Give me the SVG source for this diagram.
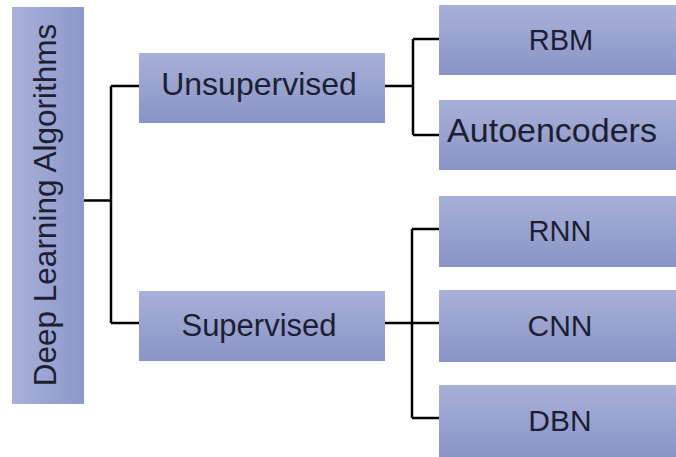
<svg xmlns="http://www.w3.org/2000/svg" width="676" height="457" viewBox="0 0 676 457">
  <defs>
    <linearGradient id="fillV" x1="0" y1="0" x2="0" y2="1">
      <stop offset="0" stop-color="#a9b0d9"/>
      <stop offset="1" stop-color="#8993c6"/>
    </linearGradient>
    <linearGradient id="fillH" x1="0" y1="0" x2="1" y2="0">
      <stop offset="0" stop-color="#a9b0d9"/>
      <stop offset="1" stop-color="#8d97ca"/>
    </linearGradient>
    <style>
      .box { fill: url(#fillV); }
      .root { fill: url(#fillH); }
      .label { font-family: "Liberation Sans", Arial, sans-serif; fill: #1c1f33; text-anchor: middle; }
      .wire { fill: none; stroke: #000; stroke-width: 2.5; }
    </style>
  </defs>
  <rect width="676" height="457" fill="#fff"/>

  <g id="connectors">
    <path class="wire" d="M84 200.5 H111 M111 86 V323 M111 86 H139 M111 323 H139"/>
    <path class="wire" d="M385 86 H413 M413 39 V135 M413 39 H439 M413 135 H439"/>
    <path class="wire" d="M385 323 H440 M412 229 V418 M412 229 H439 M412 418 H439"/>
  </g>

  <g id="node-deep-learning">
    <rect class="root" x="12" y="7" width="72" height="397"/>
    <text class="label" font-size="31.5" transform="translate(56 205) rotate(-90)">Deep Learning Algorithms</text>
  </g>

  <g id="node-unsupervised">
    <rect class="box" x="139" y="53" width="246" height="70"/>
    <text class="label" font-size="32" x="259" y="95">Unsupervised</text>
  </g>

  <g id="node-supervised">
    <rect class="box" x="139" y="291" width="246" height="70"/>
    <text class="label" font-size="31" x="259" y="336">Supervised</text>
  </g>

  <g id="node-rbm">
    <rect class="box" x="439" y="5" width="240" height="70"/>
    <text class="label" font-size="29" x="561" y="50">RBM</text>
  </g>

  <g id="node-autoencoders">
    <rect class="box" x="439" y="100" width="240" height="70"/>
    <text class="label" font-size="34" x="552" y="142">Autoencoders</text>
  </g>

  <g id="node-rnn">
    <rect class="box" x="439" y="196" width="240" height="71"/>
    <text class="label" font-size="29" x="560" y="241">RNN</text>
  </g>

  <g id="node-cnn">
    <rect class="box" x="439" y="290" width="240" height="72"/>
    <text class="label" font-size="30" x="560" y="336">CNN</text>
  </g>

  <g id="node-dbn">
    <rect class="box" x="439" y="385" width="240" height="72"/>
    <text class="label" font-size="30" x="560" y="431">DBN</text>
  </g>
</svg>
